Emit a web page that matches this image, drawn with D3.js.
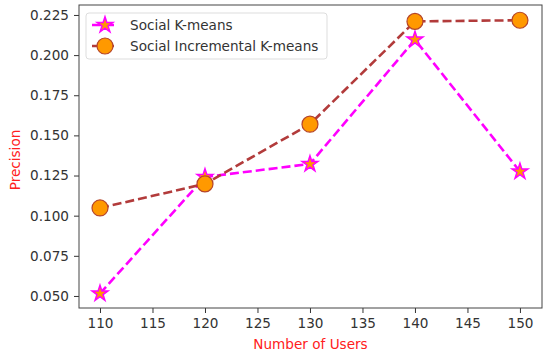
<!DOCTYPE html>
<html>
<head>
<meta charset="utf-8">
<script src="https://cdn.jsdelivr.net/npm/d3@7"></script>
<style>
  body { margin: 0; background: #fff; }
  text { font-family: "DejaVu Sans", sans-serif; }
</style>
</head>
<body>
<div id="chart"></div>
<script>
// chart data
const users = [110, 120, 130, 140, 150];
const socialKMeans = [0.0515, 0.1241, 0.1322, 0.2096, 0.1275];
const socialIncremental = [0.1048, 0.1198, 0.1570, 0.2210, 0.2217];
const xTicks = [110, 115, 120, 125, 130, 135, 140, 145, 150];
const yTicks = [0.050, 0.075, 0.100, 0.125, 0.150, 0.175, 0.200, 0.225];
const seriesNames = ['Social K-means', 'Social Incremental K-means'];

const width = 550, height = 356;
const margin = { left: 79, right: 8, top: 5, bottom: 48 };
const fontSize = 13.6;

const svg = d3.select('#chart').append('svg')
  .attr('width', width)
  .attr('height', height);

const x = d3.scaleLinear()
  .domain([108, 152.1])
  .range([margin.left, width - margin.right]);

const y = d3.scaleLinear()
  .domain([0.0425, 0.2312])
  .range([height - margin.bottom, margin.top]);

// axes
const xAxis = svg.append('g')
  .attr('transform', `translate(0,${height - margin.bottom})`)
  .call(d3.axisBottom(x).tickValues(xTicks).tickSize(5).tickPadding(5).tickFormat(d3.format('d')));

const yAxis = svg.append('g')
  .attr('transform', `translate(${margin.left},0)`)
  .call(d3.axisLeft(y).tickValues(yTicks).tickSize(5).tickPadding(5).tickFormat(d3.format('.3f')));

[xAxis, yAxis].forEach(a => {
  a.select('.domain').remove();
  a.selectAll('line').attr('stroke', '#333');
  a.selectAll('text').attr('font-size', fontSize).attr('fill', '#333')
    .attr('font-family', '"DejaVu Sans", sans-serif');
});

// frame
svg.append('rect')
  .attr('x', margin.left)
  .attr('y', margin.top)
  .attr('width', width - margin.left - margin.right)
  .attr('height', height - margin.top - margin.bottom)
  .attr('fill', 'none')
  .attr('stroke', '#444')
  .attr('stroke-width', 1);

// axis labels
svg.append('text')
  .attr('x', (x.range()[0] + x.range()[1]) / 2)
  .attr('y', 349)
  .attr('text-anchor', 'middle')
  .attr('font-size', fontSize)
  .attr('fill', '#ff2020')
  .text('Number of Users');

svg.append('text')
  .attr('transform', 'translate(20,160) rotate(-90)')
  .attr('text-anchor', 'middle')
  .attr('font-size', fontSize)
  .attr('fill', '#ff2020')
  .text('Precision');

const line = d3.line().x(d => x(d[0])).y(d => y(d[1]));
const star = d3.symbol().type(d3.symbolStar).size(78);

const kmData = users.map((u, i) => [u, socialKMeans[i]]);
const incData = users.map((u, i) => [u, socialIncremental[i]]);

// Social K-means
svg.append('path')
  .datum(kmData)
  .attr('d', line)
  .attr('fill', 'none')
  .attr('stroke', '#ff00ff')
  .attr('stroke-width', 2.6)
  .attr('stroke-dasharray', '9,4');

// Social Incremental K-means
svg.append('path')
  .datum(incData)
  .attr('d', line)
  .attr('fill', 'none')
  .attr('stroke', '#b23b3b')
  .attr('stroke-width', 2.6)
  .attr('stroke-dasharray', '9,4');

svg.selectAll('.km-marker')
  .data(kmData)
  .enter()
  .append('path')
  .attr('class', 'km-marker')
  .attr('transform', d => `translate(${x(d[0])},${y(d[1])})`)
  .attr('d', star)
  .attr('fill', '#ff9900')
  .attr('stroke', '#ff00ff')
  .attr('stroke-width', 1.5);

svg.selectAll('.inc-marker')
  .data(incData)
  .enter()
  .append('circle')
  .attr('class', 'inc-marker')
  .attr('cx', d => x(d[0]))
  .attr('cy', d => y(d[1]))
  .attr('r', 8)
  .attr('fill', '#ff9900')
  .attr('stroke', '#b5452a')
  .attr('stroke-width', 1.2);

// legend
const legend = svg.append('g').attr('transform', 'translate(86,13)');
legend.append('rect')
  .attr('width', 241)
  .attr('height', 46)
  .attr('rx', 3)
  .attr('fill', '#fff')
  .attr('stroke', '#ddd');

const items = [
  { name: seriesNames[0], color: '#ff00ff', type: 'star' },
  { name: seriesNames[1], color: '#b23b3b', type: 'circle' },
];

items.forEach((it, i) => {
  const g = legend.append('g').attr('transform', `translate(0,${12 + i * 21})`);
  g.append('line')
    .attr('x1', 6).attr('x2', 32)
    .attr('stroke', it.color)
    .attr('stroke-width', 2.6)
    .attr('stroke-dasharray', '9,4');
  if (it.type === 'star') {
    g.append('path')
      .attr('transform', 'translate(19,0)')
      .attr('d', star)
      .attr('fill', '#ff9900')
      .attr('stroke', '#ff00ff')
      .attr('stroke-width', 1.5);
  } else {
    g.append('circle')
      .attr('cx', 19).attr('r', 8)
      .attr('fill', '#ff9900')
      .attr('stroke', '#b5452a')
      .attr('stroke-width', 1.2);
  }
  g.append('text')
    .attr('x', 44)
    .attr('y', 0)
    .attr('dy', '0.35em')
    .attr('font-size', fontSize)
    .attr('fill', '#333')
    .text(it.name);
});
</script>
</body>
</html>
